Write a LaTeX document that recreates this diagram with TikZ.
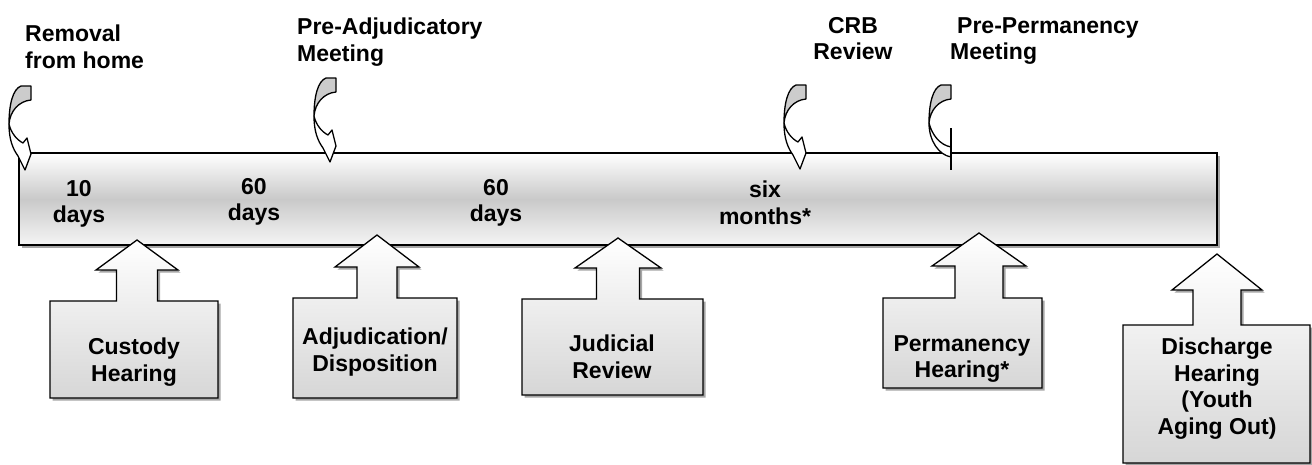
\documentclass[tikz,border=0pt]{standalone}
\usepackage{fontspec}
\setmainfont{Liberation Sans}
\usetikzlibrary{shadows}

% upward callout: tip x, tip y, head half width, shaft half width, head base y, box top, box left, box right, box bottom
\newcommand{\callout}[9]{%
  \path[co] (#7,#9) -- (#7,#6) -- ({#1-#4},#6) -- ({#1-#4},#5) -- ({#1-#3},#5)
    -- (#1,#2) -- ({#1+#3},#5) -- ({#1+#4},#5) -- ({#1+#4},#6) -- (#8,#6) -- (#8,#9) -- cycle;}
% curved arrow, back face; origin at top right of the band
\newcommand{\turnback}{%
  \path[tb] (-10,0) -- (0,0) -- (0,14) .. controls (-12,15) and (-21,25) .. (-22,38)
    .. controls (-22,18) and (-18,3) .. (-10,0) -- cycle;}
\newcommand{\turnarrow}[2]{%
  \begin{scope}[shift={(#1,#2)}]
    \turnback
    \path[tf] (-22,38) .. controls (-22,54) and (-18,63) .. (-13,70) -- (-6,84) -- (0,68)
      -- (-4,52) -- (-8,57) .. controls (-14,54) and (-20,47) .. (-22,38) -- cycle;
  \end{scope}}

\begin{document}
\begin{tikzpicture}[
  x=1pt, y=-1pt,
  lbl/.style={font=\fontsize{23}{26.5}\selectfont\bfseries, inner sep=0pt, align=center},
  bar/.style={draw, line width=1.3pt, top color=white, bottom color=gray!8, middle color=gray!42,
    drop shadow={shadow xshift=2.5pt, shadow yshift=-2.5pt, fill=gray!70, opacity=1}},
  co/.style={draw, line width=1.3pt, top color=white, bottom color=gray!32,
    drop shadow={shadow xshift=2.5pt, shadow yshift=-2.5pt, fill=gray!70, opacity=1}},
  tb/.style={draw, fill=gray!40, line width=1.3pt, line join=round},
  tf/.style={draw, fill=white, line width=1.3pt, line join=round}
]
\useasboundingbox (0,0) rectangle (1312,464);

% timeline bar
\path[bar] (19,153) rectangle (1217,245);

% events above the bar
\turnarrow{31}{86}
\turnarrow{336}{78}
\turnarrow{806}{85}
\begin{scope}[shift={(951,85)}]
  \turnback
  \path[tf] (-22,38) .. controls (-22,56) and (-12,70) .. (0,72) -- (0,62)
    .. controls (-11,60) and (-19,50) .. (-22,38) -- cycle;
  \draw[line width=1.3pt] (0,43) -- (0,85);
\end{scope}

\node[lbl, align=left, anchor=north west] (removal) at (25,25) {Removal\\from home};
\node[lbl, align=left, anchor=north west] (preadj) at (297,18) {Pre-Adjudicatory\\Meeting};
\node[lbl, anchor=north] (crb) at (853,17) {CRB\\Review};
\node[lbl, align=left, anchor=north west] (preperm) at (950,17) {\hspace*{7pt}Pre-Permanency\\Meeting};

% intervals
\node[lbl, anchor=north] (d10) at (79,180) {10\\days};
\node[lbl, anchor=north] (d60a) at (254,178) {60\\days};
\node[lbl, anchor=north] (d60b) at (496,179) {60\\days};
\node[lbl, anchor=north] (m6) at (765,181) {six\\months*};

% hearings below the bar
\callout{137}{240}{41}{20.5}{270}{301}{50}{218}{398}
\callout{377}{235}{42}{20}{267}{298}{293}{457}{398}
\callout{618}{238}{43}{21.5}{268}{299}{522}{703}{395}
\callout{979}{233}{47}{24}{266}{298}{883}{1042}{388}
\callout{1217}{254}{45}{24}{290}{325}{1123}{1310}{463}

\node[lbl, anchor=north] (custody) at (134,338) {Custody\\Hearing};
\node[lbl, anchor=north] (adjud) at (375,328) {Adjudication/\\Disposition};
\node[lbl, anchor=north] (judicial) at (612,335) {Judicial\\Review};
\node[lbl, anchor=north] (perm) at (962,335) {Permanency\\Hearing*};
\node[lbl, anchor=north] (discharge) at (1217,338) {Discharge\\Hearing\\(Youth\\Aging Out)};
\end{tikzpicture}
\end{document}
